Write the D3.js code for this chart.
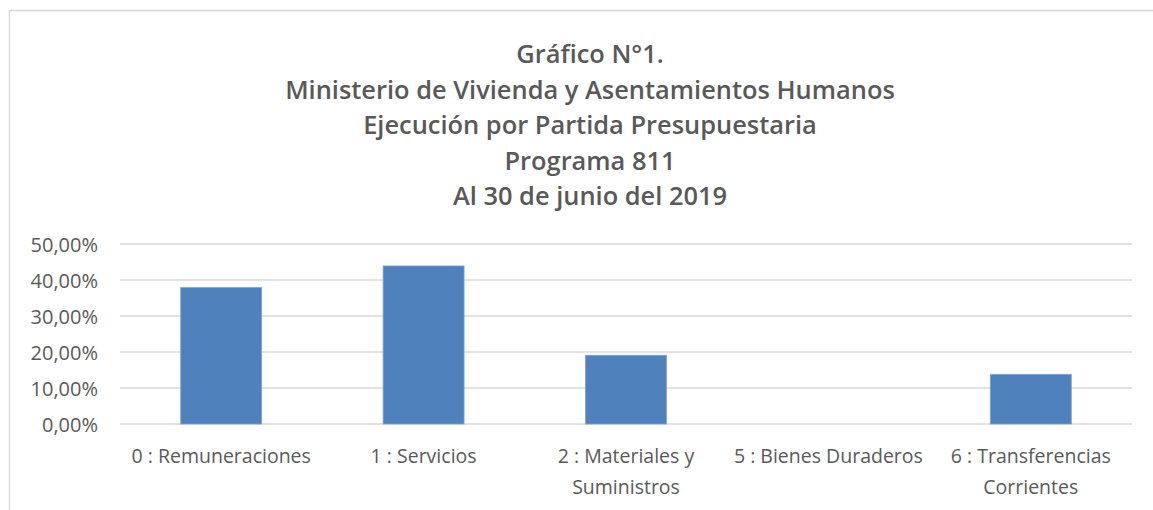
<!DOCTYPE html>
<html><head><meta charset="utf-8">
<script src="https://cdn.jsdelivr.net/npm/d3@7"></script>
<style>body{margin:0;background:#fff;} svg{display:block;}</style>
</head><body>
<script>
const titleLines = ["Gráfico N°1.", "Ministerio de Vivienda y Asentamientos Humanos", "Ejecución por Partida Presupuestaria", "Programa 811", "Al 30 de junio del 2019"];
const categories = ["0 : Remuneraciones", "1 : Servicios", "2 : Materiales y Suministros", "5 : Bienes Duraderos", "6 : Transferencias Corrientes"];
const categoryLines = [["0 : Remuneraciones"], ["1 : Servicios"], ["2 : Materiales y", "Suministros"], ["5 : Bienes Duraderos"], ["6 : Transferencias", "Corrientes"]];
const values = [0.379, 0.439, 0.191, 0.0, 0.138];
const yTicks = [0, 0.1, 0.2, 0.3, 0.4, 0.5];

const W = 1153, H = 510;
const svg = d3.select("body").append("svg").attr("width", W).attr("height", H);
const font = "'Open Sans', sans-serif";
const grey = "#595959";

// chart border
svg.append("rect").attr("x", 9.5).attr("y", 10.5).attr("width", W + 20).attr("height", H + 20)
  .attr("fill", "none").attr("stroke", "#d9d9d9").attr("stroke-width", 1.5);

const x = d3.scaleBand().domain(categories).range([120, 1132]).paddingInner(0.6).paddingOuter(0.3);
const y = d3.scaleLinear().domain([0, 0.5]).range([424, 244]);

// title
const tg = svg.append("g");
const tTexts = tg.selectAll("text").data(titleLines).join("text")
  .attr("x", 590).attr("y", (d, i) => 63 + i * 35.5)
  .attr("text-anchor", "middle").attr("font-family", font).attr("font-weight", 650)
  .attr("font-size", 22).attr("fill", grey).text(d => d);
const longest = tTexts.filter((d, i) => i === 1).node();
const tw = longest.getComputedTextLength();
tTexts.attr("font-size", 22 * 610 / tw);

// gridlines
svg.append("g").selectAll("line").data(yTicks).join("line")
  .attr("x1", 120).attr("x2", 1132).attr("y1", d => y(d)).attr("y2", d => y(d))
  .attr("stroke", "#d9d9d9").attr("stroke-width", 1.5);

// y axis labels
const yAxis = d3.axisLeft(y).tickValues(yTicks).tickSize(0).tickPadding(0)
  .tickFormat(d => d3.format(".2f")(d * 100).replace(".", ",") + "%");
const ya = svg.append("g").attr("transform", "translate(98,0)").call(yAxis);
ya.select(".domain").remove();
ya.selectAll("text").attr("font-family", font).attr("font-size", 20).attr("fill", grey).attr("dy", "0.35em");

// bars
svg.append("g").selectAll("rect").data(values).join("rect")
  .attr("x", (d, i) => x(categories[i])).attr("width", x.bandwidth())
  .attr("y", d => y(d)).attr("height", d => y(0) - y(d))
  .attr("fill", "#4f81bd").attr("stroke", "#7ea3d1").attr("stroke-width", 0.8);

// x axis labels
const xa = svg.append("g");
categories.forEach((c, i) => {
  const t = xa.append("text").attr("text-anchor", "middle")
    .attr("font-family", font).attr("font-size", 19.5).attr("fill", grey);
  categoryLines[i].forEach((ln, j) => {
    t.append("tspan").attr("x", x(c) + x.bandwidth() / 2).attr("y", 463 + j * 31).text(ln);
  });
});
</script>
</body></html>
